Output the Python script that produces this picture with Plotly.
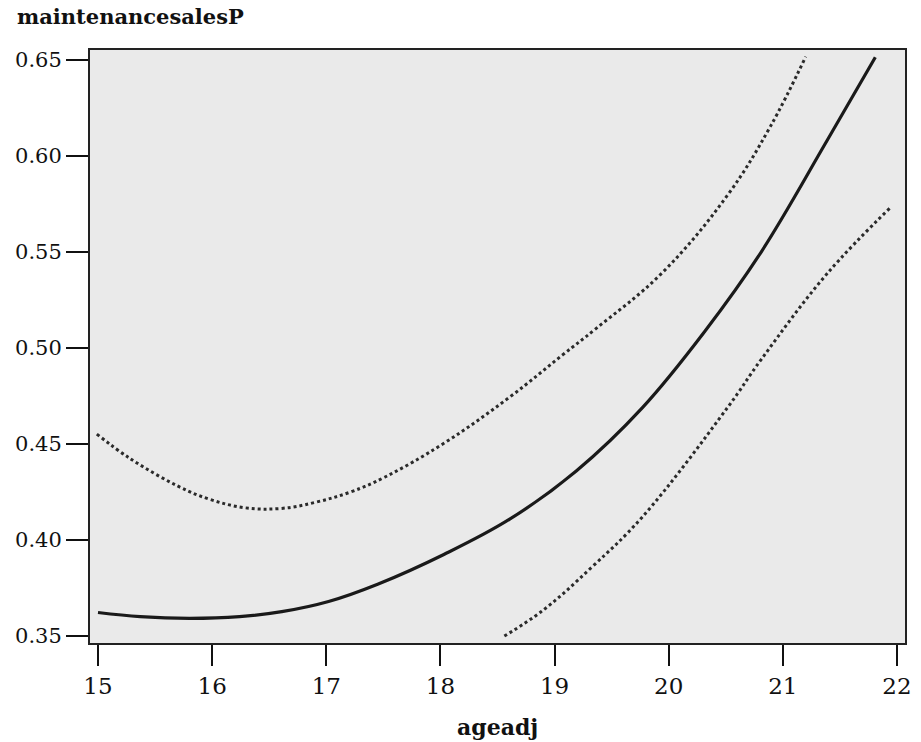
import plotly.graph_objects as go

# Fitted curve (solid)
fit_x = [15.00, 15.37, 15.80, 16.24, 16.61, 17.02, 17.45, 18.03, 18.61, 19.19, 19.77, 20.32, 20.81, 21.39, 21.81]
fit_y = [0.3623, 0.3601, 0.3592, 0.3601, 0.3627, 0.3680, 0.3770, 0.3925, 0.4110, 0.4360, 0.4690, 0.5090, 0.5500, 0.6083, 0.6514]

# Upper confidence band (dotted)
upper_x = [14.99, 15.28, 15.71, 15.97, 16.29, 16.61, 16.90, 17.22, 17.51, 18.03, 18.61, 19.07, 19.36, 19.94, 20.52, 20.89, 21.20]
upper_y = [0.4552, 0.4425, 0.4278, 0.4214, 0.4168, 0.4165, 0.4196, 0.4252, 0.4327, 0.4504, 0.4746, 0.4964, 0.5100, 0.5390, 0.5800, 0.6153, 0.6517]

# Lower confidence band (dotted)
lower_x = [18.56, 18.90, 19.33, 19.77, 20.52, 20.81, 21.39, 21.95]
lower_y = [0.3500, 0.3635, 0.3861, 0.4121, 0.4694, 0.4940, 0.5389, 0.5736]

x_ticks = [15, 16, 17, 18, 19, 20, 21, 22]
y_ticks = [0.35, 0.40, 0.45, 0.50, 0.55, 0.60, 0.65]

fig = go.Figure()
fig.add_trace(go.Scatter(x=upper_x, y=upper_y, mode="lines",
                         line=dict(color="#2a2a2a", width=3, dash="3px,3px", shape="spline", smoothing=1.1),
                         showlegend=False, hoverinfo="skip"))
fig.add_trace(go.Scatter(x=lower_x, y=lower_y, mode="lines",
                         line=dict(color="#2a2a2a", width=3, dash="3px,3px", shape="spline", smoothing=1.1),
                         showlegend=False, hoverinfo="skip"))
fig.add_trace(go.Scatter(x=fit_x, y=fit_y, mode="lines",
                         line=dict(color="#1a1a1a", width=3.2, shape="spline", smoothing=1.1),
                         showlegend=False, hoverinfo="skip"))

axis_common = dict(showgrid=False, zeroline=False, showline=True, mirror=True,
                   linecolor="#222222", linewidth=2, ticks="outside",
                   tickcolor="#111111", tickwidth=2)

fig.update_xaxes(range=[14.93, 22.07], tickvals=x_ticks, ticklen=21,
                 tickfont=dict(family="DejaVu Serif", size=23, color="#111111"),
                 **axis_common)
fig.update_yaxes(range=[0.3464, 0.6552], tickvals=y_ticks, tickformat=".2f", ticklen=22,
                 tickfont=dict(family="DejaVu Serif", size=21, color="#111111"),
                 **axis_common)

fig.add_annotation(text="<b>maintenancesalesP</b>", xref="paper", yref="paper",
                   x=-0.0925, y=1.057, xanchor="left", yanchor="middle", showarrow=False,
                   font=dict(family="DejaVu Serif", size=21, color="#111111"))
fig.add_annotation(text="<b>ageadj</b>", xref="paper", yref="paper",
                   x=0.5, y=-0.142, xanchor="center", yanchor="middle", showarrow=False,
                   font=dict(family="DejaVu Serif", size=22, color="#111111"))

fig.update_layout(width=921, height=742, margin=dict(l=90, r=9, t=50, b=99),
                  paper_bgcolor="white", plot_bgcolor="#eaeaea")

fig.write_html("out.html")
